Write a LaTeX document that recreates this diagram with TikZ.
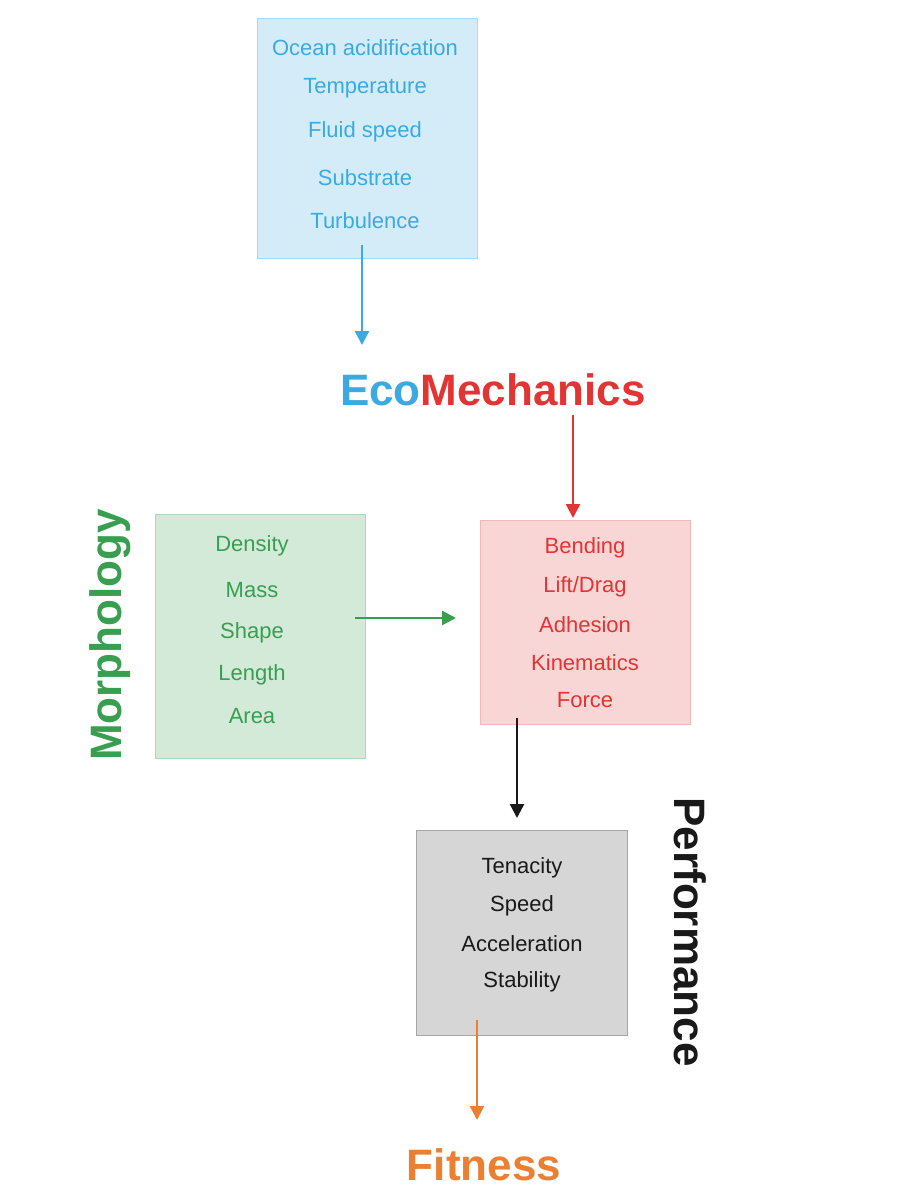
\documentclass[tikz,border=0pt]{standalone}
\usepackage{fontspec}
\setmainfont{Liberation Sans}
\usetikzlibrary{arrows.meta,positioning}
\definecolor{ecoblue}{RGB}{58,170,225}
\definecolor{mechred}{RGB}{226,52,50}
\definecolor{morphgreen}{RGB}{56,158,80}
\definecolor{fitorange}{RGB}{236,128,50}
\begin{document}
\begin{tikzpicture}
  [x=0.5pt,y=-0.5pt,
   box/.style={draw,line width=0.5pt},
   item/.style={font=\fontsize{11}{13}\selectfont,inner sep=0pt},
   title/.style={font=\fontsize{22}{26}\selectfont\bfseries,inner sep=0pt},
   arr/.style={-{Triangle[length=7pt,width=7pt]},line width=1.2pt}]
  \useasboundingbox (0,0) rectangle (914,1200);
  % boxes
  \draw[box,draw=ecoblue!45,fill=ecoblue!22] (257,18) rectangle (477,258);
  \draw[box,draw=morphgreen!40,fill=morphgreen!22] (155,514) rectangle (365,758);
  \draw[box,draw=mechred!35,fill=mechred!20] (480,520) rectangle (690,724);
  \draw[box,draw=black!35,fill=black!16] (416,830) rectangle (627,1035);
  % box texts
  \foreach \t/\y in {Ocean acidification/48,Temperature/88,Fluid speed/132,Substrate/178,Turbulence/221}
    \node[item,text=ecoblue] at (365,\y) {\t};
  \foreach \t/\y in {Density/546,Mass/590,Shape/633,Length/675,Area/716}
    \node[item,text=morphgreen] at (252,\y) {\t};
  \foreach \t/\y in {Bending/548,{Lift/Drag}/587,Adhesion/625,Kinematics/663,Force/700}
    \node[item,text=mechred] at (585,\y) {\t};
  \foreach \t/\y in {Tenacity/868,Speed/906,Acceleration/944,Stability/982}
    \node[item,text=black!90] at (522,\y) {\t};
  % titles
  \node[title] (eco) at (493,390) {\textcolor{ecoblue}{Eco}\textcolor{mechred}{Mechanics}};
  \node[title,text=morphgreen,rotate=90] (morph) at (110,635) {Morphology};
  \node[title,text=black!90,rotate=-90] (perf) at (690,932) {Performance};
  \node[title,text=fitorange] (fit) at (484,1165) {Fitness};
  % arrow ends
  \coordinate (envS) at (362,245);  \coordinate (envE) at (362,345);
  \coordinate (mecS) at (573,415);  \coordinate (mecE) at (573,518);
  \coordinate (morS) at (355,618);  \coordinate (morE) at (456,618);
  \coordinate (perS) at (517,718);  \coordinate (perE) at (517,818);
  \coordinate (fitS) at (477,1020); \coordinate (fitE) at (477,1120);
  \draw[arr,ecoblue] (envS) -- (envE);
  \draw[arr,mechred] (mecS) -- (mecE);
  \draw[arr,morphgreen] (morS) -- (morE);
  \draw[arr,black!90] (perS) -- (perE);
  \draw[arr,fitorange] (fitS) -- (fitE);
\end{tikzpicture}
\end{document}
